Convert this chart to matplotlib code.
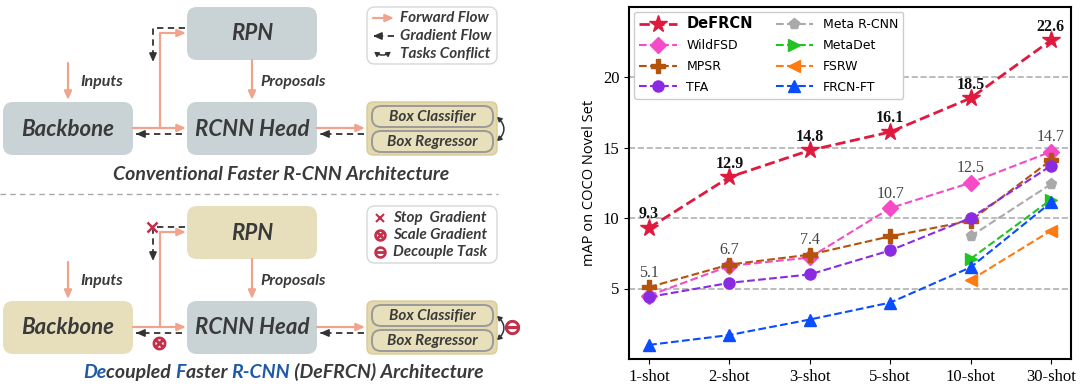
import matplotlib
matplotlib.use('Agg')
import matplotlib.pyplot as plt
from matplotlib.patches import FancyBboxPatch, FancyArrowPatch

# ---------------- data (right chart) ----------------
shots = ['1-shot', '2-shot', '3-shot', '5-shot', '10-shot', '30-shot']
defrcn = [9.3, 12.9, 14.8, 16.1, 18.5, 22.6]
wildfsd = [4.5, 6.6, 7.2, 10.7, 12.5, 14.7]
mpsr = [5.1, 6.7, 7.4, 8.7, 9.8, 14.1]
tfa = [4.4, 5.4, 6.0, 7.7, 10.0, 13.7]
late_shots = [4, 5]          # methods reported only for 10/30-shot
meta_rcnn = [8.7, 12.4]
metadet = [7.1, 11.3]
fsrw = [5.6, 9.1]
frcn_ft = [1.0, 1.7, 2.8, 4.0, 6.5, 11.1]
# best baseline value written next to each shot
best_idx = [0, 1, 2, 3, 4, 5]
best_val = [5.1, 6.7, 7.4, 10.7, 12.5, 14.7]

fig = plt.figure(figsize=(10.8, 3.87), dpi=100)

# ---------------- left: architecture diagram ----------------
ax0 = fig.add_axes([0, 0, 570 / 1080, 1])
ax0.set_xlim(0, 570)
ax0.set_ylim(387, 0)
ax0.axis('off')

GRAYBOX = '#c9d3d5'
TAN = '#e7dfbc'
SALMON = '#f0a48e'
DARK = '#333333'
RED = '#c2304a'
BLUE = '#1f5aa6'
TXT = '#3a3a3a'
FONT = 'Lato'


def rbox(x0, y0, x1, y1, fc, ec='none', lw=0, r=8, z=1):
    p = FancyBboxPatch((x0, y0), x1 - x0, y1 - y0,
                       boxstyle='round,pad=0,rounding_size=%d' % r,
                       fc=fc, ec=ec, lw=lw, zorder=z)
    ax0.add_patch(p)


def head(x0, y0, x1, y1, c, lw=1.4):
    ax0.annotate('', xy=(x1, y1), xytext=(x0, y0),
                 arrowprops=dict(arrowstyle='-|>,head_length=0.5,head_width=0.22',
                                 color=c, lw=lw, shrinkA=0, shrinkB=0))


def fwd(xs, ys):
    ax0.plot(xs[:-1], ys[:-1], color=SALMON, lw=1.6, solid_capstyle='butt')
    head(xs[-2], ys[-2], xs[-1], ys[-1], SALMON, 1.6)


def grad(xs, ys):
    ax0.plot(xs, ys, color=DARK, lw=1.3, ls=(0, (3.5, 2.5)))
    dx = xs[-1] - xs[-2]
    dy = ys[-1] - ys[-2]
    n = (dx ** 2 + dy ** 2) ** 0.5
    head(xs[-1] - 3 * dx / n, ys[-1] - 3 * dy / n, xs[-1], ys[-1], DARK, 1.2)


def itxt(x, y, s, size, **kw):
    return ax0.text(x, y, s, fontsize=size, fontfamily=FONT, fontweight='bold',
                    fontstyle='italic', color=kw.pop('color', TXT),
                    va=kw.pop('va', 'center'), **kw)


def panel(oy, rpn_c, bb_c, legend_kind):
    # boxes
    rbox(187, oy + 7, 317, oy + 60, rpn_c, r=10)
    rbox(3, oy + 102, 133, oy + 155, bb_c, r=10)
    rbox(187, oy + 102, 317, oy + 155, GRAYBOX, r=10)
    itxt(252, oy + 34, 'RPN', 16, ha='center')
    itxt(68, oy + 129, 'Backbone', 16, ha='center')
    itxt(252, oy + 129, 'RCNN Head', 16, ha='center')
    # heads container
    rbox(367, oy + 102, 497, oy + 155, '#e4d9ae', ec='#d8cc98', lw=1, r=6)
    rbox(372, oy + 106, 493, oy + 127, '#e8dfbb', ec='#9a9a9a', lw=1.4, r=9, z=2)
    rbox(372, oy + 131, 493, oy + 152, '#e8dfbb', ec='#9a9a9a', lw=1.4, r=9, z=2)
    itxt(432, oy + 117, 'Box Classifier', 11, ha='center', zorder=3)
    itxt(432, oy + 142, 'Box Regressor', 11, ha='center', zorder=3)
    # inputs / proposals
    fwd([68, 68], [oy + 63, oy + 100])
    itxt(80, oy + 82, 'Inputs', 11.5, ha='left')
    fwd([252, 252], [oy + 60, oy + 100])
    itxt(260, oy + 82, 'Proposals', 11.5, ha='left')
    # backbone -> rcnn, branch to rpn
    fwd([133, 186], [oy + 128, oy + 128])
    fwd([160, 160, 186], [oy + 128, oy + 33, oy + 33])
    fwd([317, 365], [oy + 128, oy + 128])
    grad([182, 136], [oy + 134, oy + 134])
    grad([364, 320], [oy + 134, oy + 134])
    # gradient coming back from rpn
    ax0.plot([185, 153, 153], [oy + 28, oy + 28, oy + 58], color=DARK, lw=1.3,
             ls=(0, (3.5, 2.5)))
    head(153, oy + 56, 153, oy + 62, DARK, 1.2)
    # conflict arrow
    ax0.add_patch(FancyArrowPatch((495, oy + 115), (495, oy + 143),
                                  connectionstyle='arc3,rad=-0.6',
                                  arrowstyle='<|-|>,head_length=2.5,head_width=1.5',
                                  color=DARK, lw=1.1, zorder=3))
    rbox(367, oy + 7, 497, oy + 64, 'white', ec='#d3d8da', lw=1, r=8)
    if legend_kind == 'conv':
        fwd([373, 394], [oy + 18, oy + 18])
        grad([394, 373], [oy + 36, oy + 36])
        ax0.add_patch(FancyArrowPatch((372, oy + 50), (393, oy + 50),
                                      connectionstyle='arc3,rad=0.45',
                                      arrowstyle='<|-|>,head_length=2.5,head_width=1.5',
                                      color=DARK, lw=1.1))
        labels = ['Forward Flow', 'Gradient Flow', 'Tasks Conflict']
        for lab, yy in zip(labels, [18, 36, 54]):
            itxt(400, oy + yy, lab, 11, ha='left')
    else:
        ax0.plot(152, oy + 28, marker='x', color=RED, ms=7, mew=1.8)
        ax0.plot(159, oy + 144, marker='$\\otimes$', color=RED, ms=9)
        ax0.plot(512, oy + 128, marker='$\\ominus$', color=RED, ms=10)
        ax0.plot(380, oy + 19, marker='x', color=RED, ms=6, mew=1.5)
        ax0.plot(380, oy + 36, marker='$\\otimes$', color=RED, ms=8)
        ax0.plot(380, oy + 53, marker='$\\ominus$', color=RED, ms=8)
        labels = ['Stop  Gradient', 'Scale Gradient', 'Decouple Task']
        for lab, yy in zip(labels, [19, 36, 53]):
            itxt(393, oy + yy, lab, 11, ha='left')


panel(0, GRAYBOX, GRAYBOX, 'conv')
itxt(281, 175, 'Conventional Faster R-CNN Architecture', 14, ha='center')
ax0.plot([0, 498], [194, 194], color='#a8a8a8', lw=1, ls=(0, (4, 3)))

panel(199, TAN, TAN, 'dec')

parts = [('De', BLUE), ('coupled ', TXT), ('F', BLUE), ('aster ', TXT),
         ('R-CNN', BLUE), (' (DeFRCN) Architecture', TXT)]
prev = itxt(83, 378, parts[0][0], 14, ha='left', va='baseline', color=parts[0][1])
for s, c in parts[1:]:
    prev = ax0.annotate(s, xy=(1, 0), xycoords=prev, ha='left', va='bottom',
                        fontsize=14, fontfamily=FONT, fontweight='bold',
                        fontstyle='italic', color=c)

# ---------------- right: mAP chart ----------------
ax = fig.add_axes([629 / 1080, 1 - 359 / 387, 442 / 1080, 352.5 / 387])
x = list(range(len(shots)))
ax.plot(x, defrcn, ls='--', color='#e0193f', lw=2, marker='*', ms=13,
        label='DeFRCN', zorder=10)
ax.plot(x, wildfsd, ls='--', color='#f54bc6', lw=1.5, marker='D', ms=8,
        label='WildFSD', zorder=6)
ax.plot(x, mpsr, ls='--', color='#b3530c', lw=1.5, marker='P', ms=9.5,
        label='MPSR', zorder=7)
ax.plot(x, tfa, ls='--', color='#8a2be2', lw=1.5, marker='o', ms=8,
        label='TFA', zorder=8)
ax.plot(late_shots, meta_rcnn, ls='--', color='#a9a9a9', lw=1.5, marker='p', ms=8,
        label='Meta R-CNN', zorder=5)
ax.plot(late_shots, metadet, ls='--', color='#22c322', lw=1.5, marker='>', ms=8,
        label='MetaDet', zorder=5)
ax.plot(late_shots, fsrw, ls='--', color='#ff7a10', lw=1.5, marker='<', ms=8,
        label='FSRW', zorder=5)
ax.plot(x, frcn_ft, ls='--', color='#0a4dff', lw=1.5, marker='^', ms=8,
        label='FRCN-FT', zorder=5)

for i, v in zip(x, defrcn):
    ax.annotate('%.1f' % v, (i, v), xytext=(0, 4), textcoords='offset points',
                ha='center', va='bottom', fontsize=11.5, fontweight='bold',
                fontfamily='Liberation Serif', color='#111111', zorder=12)
for i, v in zip(best_idx, best_val):
    ax.annotate('%.1f' % v, (i, v), xytext=(0, 4.5), textcoords='offset points',
                ha='center', va='bottom', fontsize=11.5,
                fontfamily='Liberation Serif', color='#444444', zorder=12)

ax.set_xlim(-0.25, 5.25)
ax.set_ylim(0, 25)
ax.set_xticks(x)
ax.set_xticklabels(shots, fontfamily='Liberation Serif', fontsize=12)
ax.set_yticks([5, 10, 15, 20])
ax.set_yticklabels(['5', '10', '15', '20'], fontfamily='Liberation Serif', fontsize=12)
ax.yaxis.grid(True, ls='--', color='#b0b0b0', lw=1.2)
ax.set_axisbelow(True)
ax.set_ylabel('mAP on COCO Novel Set', fontsize=10.5, fontfamily='Open Sans')
for sp in ax.spines.values():
    sp.set_linewidth(1.5)

leg = ax.legend(loc='upper left', ncol=2, fontsize=9, handlelength=3,
                columnspacing=1.8, labelspacing=0.62, framealpha=1,
                edgecolor='#cccccc', fancybox=True, borderaxespad=0.4)
for t in leg.get_texts():
    if t.get_text() == 'DeFRCN':
        t.set_fontweight('bold')
        t.set_fontsize(10.5)

fig.savefig('out.png', dpi=100)
